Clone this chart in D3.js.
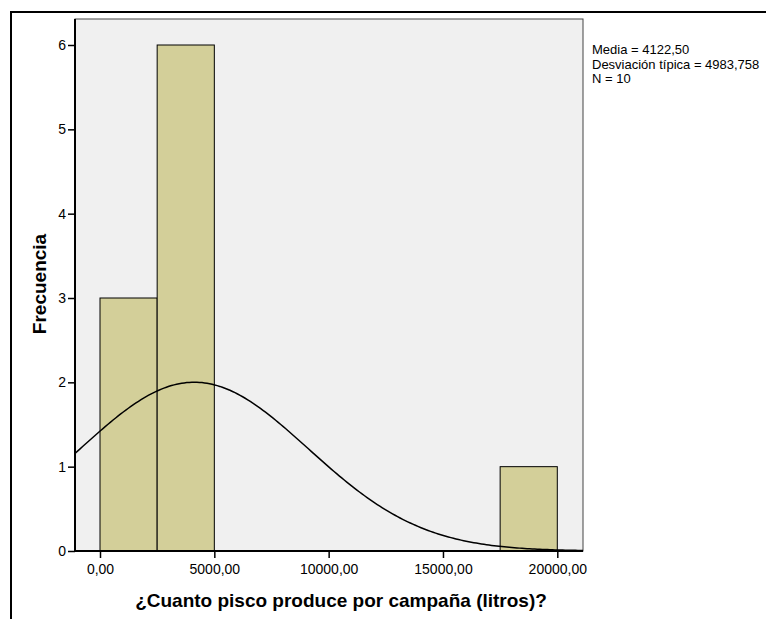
<!DOCTYPE html>
<html lang="es">
  <head>
    <meta charset="utf-8" />
    <title>histograma</title>
    <script type="text/javascript" src="https://d3js.org/d3.v7.min.js"></script>
    <style>
      body { margin: 0; background: #fff; }
      text { font-family: "Liberation Sans", Arial, sans-serif; }
    </style>
  </head>
  <body>
    <div id="graph"></div>

    <script type="text/javascript">
      /***************
       * data
       ***************/

      const binStarts = [0, 2500, 17500];
      const binWidth = 2500;
      const counts = [3, 6, 1];
      const xTicks = [0, 5000, 10000, 15000, 20000];
      const yTicks = [0, 1, 2, 3, 4, 5, 6];
      const mean = 4122.5;
      const sd = 4983.758;
      const n = 10;
      const statsLines = ["Media = 4122,50", "Desviación típica = 4983,758", "N = 10"];

      /***************
       * svg
       ***************/

      const width = 766;
      const height = 619;
      const plot = { left: 75, top: 19, right: 583, bottom: 551 };

      const svg = d3
        .select("div#graph")
        .append("svg")
        .attr("width", width)
        .attr("height", height);

      // outer frame (runs off the right / bottom edges)
      svg.append("rect")
        .attr("x", 11).attr("y", 12)
        .attr("width", 800).attr("height", 700)
        .attr("fill", "none")
        .attr("stroke", "#000")
        .attr("stroke-width", 2);

      /***************
       * scales
       ***************/

      const x = d3.scaleLinear().domain([0, 20000]).range([100, 557.3]);
      const y = d3.scaleLinear().domain([0, 6]).range([plot.bottom, 45]);

      // plot background
      svg.append("rect")
        .attr("x", plot.left).attr("y", plot.top)
        .attr("width", plot.right - plot.left)
        .attr("height", plot.bottom - plot.top)
        .attr("fill", "#f0f0f0")
        .attr("stroke", "#444")
        .attr("stroke-width", 1);

      svg.append("clipPath").attr("id", "clip")
        .append("rect")
        .attr("x", plot.left).attr("y", plot.top)
        .attr("width", plot.right - plot.left)
        .attr("height", plot.bottom - plot.top);

      // bars
      svg.selectAll("rect.bar")
        .data(binStarts)
        .enter()
        .append("rect")
        .attr("class", "bar")
        .attr("x", d => x(d))
        .attr("width", d => x(d + binWidth) - x(d))
        .attr("y", (d, i) => y(counts[i]))
        .attr("height", (d, i) => y(0) - y(counts[i]))
        .attr("fill", "#d3cf99")
        .attr("stroke", "#000")
        .attr("stroke-width", 1);

      // normal curve
      const x0 = x.invert(plot.left);
      const x1 = x.invert(plot.right);
      const curvePts = d3.range(0, 201).map(k => {
        const v = x0 + (x1 - x0) * k / 200;
        const z = (v - mean) / sd;
        return [v, n * binWidth / (sd * Math.sqrt(2 * Math.PI)) * Math.exp(-0.5 * z * z)];
      });
      svg.append("path")
        .datum(curvePts)
        .attr("clip-path", "url(#clip)")
        .attr("fill", "none")
        .attr("stroke", "#000")
        .attr("stroke-width", 1.5)
        .attr("d", d3.line().x(d => x(d[0])).y(d => y(d[1])));

      /***************
       * axes
       ***************/

      const yAxis = svg.append("g")
        .attr("transform", "translate(" + plot.left + ",0)")
        .call(d3.axisLeft(y).tickValues(yTicks).tickSize(7).tickSizeOuter(0).tickFormat(d3.format("d")));

      const xAxis = svg.append("g")
        .attr("transform", "translate(0," + plot.bottom + ")")
        .call(d3.axisBottom(x).tickValues(xTicks).tickSize(7).tickSizeOuter(0)
          .tickFormat(d => d3.format(".2f")(d).replace(".", ",")));

      [yAxis, xAxis].forEach(a => {
        a.selectAll("text")
          .attr("fill", "#000")
          .style("font-family", "'Liberation Sans', Arial, sans-serif")
          .style("font-size", "14px");
        a.selectAll("line").attr("stroke", "#000").attr("stroke-width", 1.5);
        a.select(".domain").remove();
      });
      xAxis.selectAll("text").attr("y", 13).attr("dy", "0.71em");
      yAxis.selectAll("text").attr("x", -9);

      // axis lines
      svg.append("line")
        .attr("x1", plot.left).attr("x2", plot.left)
        .attr("y1", plot.top).attr("y2", plot.bottom)
        .attr("stroke", "#000").attr("stroke-width", 2);
      svg.append("line")
        .attr("x1", plot.left).attr("x2", plot.right)
        .attr("y1", plot.bottom).attr("y2", plot.bottom)
        .attr("stroke", "#000").attr("stroke-width", 2);

      // titles
      svg.append("text")
        .attr("x", 341).attr("y", 607)
        .attr("text-anchor", "middle")
        .style("font-size", "19px")
        .style("font-weight", "bold")
        .text("¿Cuanto pisco produce por campaña (litros)?");

      svg.append("text")
        .attr("transform", "translate(46,284) rotate(-90)")
        .attr("text-anchor", "middle")
        .style("font-size", "19px")
        .style("font-weight", "bold")
        .text("Frecuencia");

      // stats box
      svg.selectAll("text.stat")
        .data(statsLines)
        .enter()
        .append("text")
        .attr("class", "stat")
        .attr("x", 592)
        .attr("y", (d, i) => 54 + i * 14.5)
        .style("font-size", "13px")
        .text(d => d);
    </script>
  </body>
</html>
